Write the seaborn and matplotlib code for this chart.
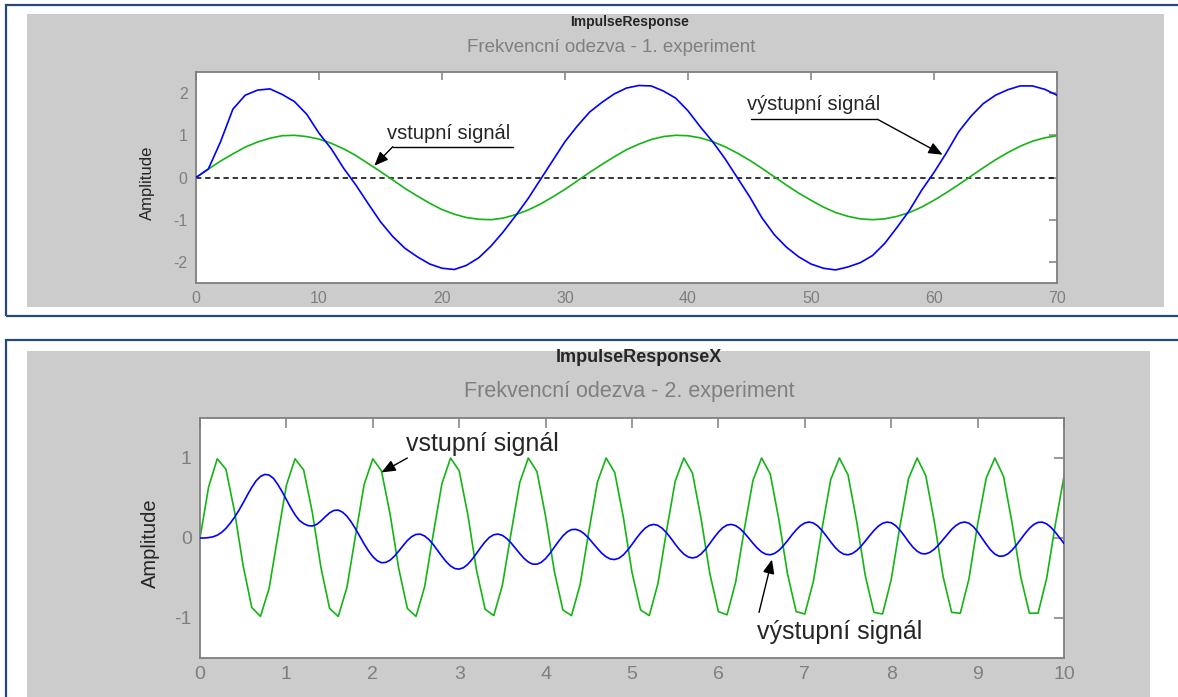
import numpy as np
import matplotlib
matplotlib.use("Agg")
import matplotlib.pyplot as plt
from matplotlib.patches import Rectangle
import seaborn as sns

# -----------------------------------
# STEP 1: Data
# -----------------------------------
# experiment 1: one sample per time unit, t = 0..70
exp1_t = np.arange(0, 71)
exp1_in = [
    0.00, 0.20, 0.39, 0.56, 0.72, 0.84, 0.93, 0.99, 1.00, 0.97,
    0.91, 0.81, 0.68, 0.52, 0.33, 0.14, -0.06, -0.26, -0.44, -0.61,
    -0.76, -0.87, -0.95, -0.99, -1.00, -0.96, -0.88, -0.77, -0.63, -0.46,
    -0.28, -0.08, 0.12, 0.31, 0.49, 0.66, 0.79, 0.90, 0.97, 1.00,
    0.99, 0.94, 0.85, 0.73, 0.58, 0.41, 0.22, 0.02, -0.18, -0.37,
    -0.54, -0.70, -0.83, -0.92, -0.98, -1.00, -0.98, -0.92, -0.83, -0.70,
    -0.54, -0.36, -0.17, 0.03, 0.23, 0.42, 0.59, 0.74, 0.86, 0.94,
    0.99,
]
exp1_out = [
    0.00, 0.20, 0.85, 1.62, 1.95, 2.07, 2.10, 1.97, 1.80, 1.50,
    1.05, 0.68, 0.22, -0.18, -0.62, -1.05, -1.40, -1.68, -1.88, -2.05,
    -2.15, -2.18, -2.08, -1.90, -1.62, -1.28, -0.90, -0.50, -0.05, 0.40,
    0.85, 1.22, 1.55, 1.78, 1.98, 2.12, 2.18, 2.17, 2.05, 1.88,
    1.58, 1.20, 0.85, 0.45, 0.00, -0.45, -0.95, -1.35, -1.65, -1.88,
    -2.05, -2.15, -2.19, -2.12, -2.02, -1.85, -1.56, -1.18, -0.78, -0.30,
    0.12, 0.58, 1.08, 1.45, 1.75, 1.95, 2.08, 2.17, 2.17, 2.09,
    1.95,
]

# experiment 2: input sampled every 0.1 s, output every 0.05 s, t = 0..10
exp2_t_in = np.round(np.arange(0, 101) * 0.1, 2)
exp2_in = [
    0.00, 0.64, 0.99, 0.86, 0.33, -0.35, -0.87, -0.98, -0.63, 0.02,
    0.66, 0.99, 0.85, 0.32, -0.37, -0.88, -0.98, -0.62, 0.03, 0.67,
    0.99, 0.84, 0.30, -0.38, -0.88, -0.98, -0.61, 0.05, 0.68, 1.00,
    0.84, 0.29, -0.40, -0.89, -0.97, -0.59, 0.06, 0.69, 1.00, 0.83,
    0.27, -0.41, -0.90, -0.97, -0.58, 0.08, 0.70, 1.00, 0.82, 0.26,
    -0.43, -0.90, -0.97, -0.57, 0.09, 0.71, 1.00, 0.81, 0.24, -0.44,
    -0.92, -0.96, -0.55, 0.11, 0.72, 1.00, 0.80, 0.23, -0.45, -0.92,
    -0.95, -0.54, 0.12, 0.73, 1.00, 0.79, 0.21, -0.47, -0.93, -0.95,
    -0.52, 0.14, 0.74, 1.00, 0.78, 0.20, -0.48, -0.93, -0.94, -0.51,
    0.17, 0.75, 1.00, 0.77, 0.18, -0.49, -0.94, -0.94, -0.50, 0.17,
    0.77,
]
exp2_t_out = np.round(np.arange(0, 201) * 0.05, 2)
exp2_out = [
    0.000, 0.000, 0.005, 0.015, 0.035, 0.070, 0.120, 0.185, 0.260, 0.345,
    0.440, 0.540, 0.635, 0.715, 0.770, 0.795, 0.786, 0.746, 0.670, 0.580,
    0.480, 0.380, 0.290, 0.220, 0.180, 0.155, 0.150, 0.170, 0.213, 0.266,
    0.314, 0.345, 0.349, 0.323, 0.273, 0.201, 0.115, 0.020, -0.075, -0.161,
    -0.233, -0.283, -0.309, -0.305, -0.277, -0.228, -0.164, -0.096, -0.032, 0.017,
    0.045, 0.048, 0.025, -0.020, -0.082, -0.155, -0.229, -0.297, -0.350, -0.382,
    -0.389, -0.371, -0.328, -0.266, -0.193, -0.117, -0.047, 0.008, 0.041, 0.049,
    0.033, -0.006, -0.061, -0.127, -0.193, -0.254, -0.300, -0.326, -0.328, -0.304,
    -0.257, -0.192, -0.118, -0.042, 0.026, 0.077, 0.105, 0.108, 0.089, 0.050,
    -0.004, -0.067, -0.131, -0.190, -0.235, -0.263, -0.269, -0.252, -0.211, -0.151,
    -0.080, -0.005, 0.064, 0.121, 0.157, 0.170, 0.157, 0.121, 0.065, -0.003,
    -0.077, -0.145, -0.201, -0.237, -0.250, -0.237, -0.199, -0.141, -0.070, 0.005,
    0.073, 0.128, 0.162, 0.170, 0.154, 0.117, 0.063, 0.000, -0.066, -0.126,
    -0.174, -0.203, -0.210, -0.193, -0.155, -0.099, -0.033, 0.037, 0.101, 0.154,
    0.188, 0.200, 0.187, 0.150, 0.093, 0.024, -0.049, -0.116, -0.169, -0.202,
    -0.210, -0.194, -0.157, -0.104, -0.039, 0.029, 0.093, 0.147, 0.184, 0.199,
    0.191, 0.156, 0.100, 0.030, -0.045, -0.113, -0.165, -0.195, -0.198, -0.178,
    -0.139, -0.084, -0.020, 0.046, 0.108, 0.157, 0.189, 0.200, 0.185, 0.143,
    0.078, 0.001, -0.078, -0.149, -0.201, -0.228, -0.225, -0.199, -0.151, -0.087,
    -0.015, 0.057, 0.121, 0.169, 0.195, 0.198, 0.176, 0.132, 0.072, 0.002,
    -0.068,
]

exp1_xticks = [0, 10, 20, 30, 40, 50, 60, 70]
exp1_yticks = [-2, -1, 0, 1, 2]
exp2_xticks = [0, 1, 2, 3, 4, 5, 6, 7, 8, 9, 10]
exp2_yticks = [-1, 0, 1]

# -----------------------------------
# STEP 2: Style
# -----------------------------------
sns.set_style("white")
plt.rcParams["font.family"] = ["Liberation Sans", "DejaVu Sans"]

BLUE = "#0000FF"
GREEN = "#14B414"
GRAY_BG = "#CCCCCC"
AX_GRAY = "#7F7F7F"
NAVY = "#244A7C"

FIG_W, FIG_H = 1178, 697


def fx(px):
    return px / FIG_W


def fy(py):
    return 1 - py / FIG_H


def rect(left, top, right, bottom):
    return [fx(left), fy(bottom), (right - left) / FIG_W, (bottom - top) / FIG_H]


fig = plt.figure(figsize=(FIG_W / 100, FIG_H / 100), dpi=100)
fig.patch.set_facecolor("white")

# panel frames and grey backgrounds
for (l, t, r, b) in [(6, 5, 1190, 316), (6, 340, 1190, 720)]:
    fig.add_artist(Rectangle((fx(l), fy(b)), (r - l) / FIG_W, (b - t) / FIG_H,
                             transform=fig.transFigure, facecolor="none",
                             edgecolor=NAVY, lw=1.6, zorder=-2))
for (l, t, r, b) in [(27, 14, 1164, 307), (27, 351, 1150, 697)]:
    fig.add_artist(Rectangle((fx(l), fy(b)), (r - l) / FIG_W, (b - t) / FIG_H,
                             transform=fig.transFigure, facecolor=GRAY_BG,
                             edgecolor="none", zorder=-1))


def style_axes(ax, xticks, yticks, xlim, ylim, size, tick_len):
    ax.set_facecolor("white")
    ax.set_xlim(*xlim)
    ax.set_ylim(*ylim)
    ax.set_xticks(xticks)
    ax.set_yticks(yticks)
    ax.set_xticklabels([str(v) for v in xticks])
    ax.set_yticklabels([str(v) for v in yticks])
    ax.tick_params(direction="in", length=tick_len, width=1.1, colors=AX_GRAY,
                   top=True, right=True, labelsize=size, pad=6)
    for s in ax.spines.values():
        s.set_color(AX_GRAY)
        s.set_linewidth(1.3)
        s.set_visible(True)
    ax.set_xlabel("")
    ax.set_ylabel("")


def arrow(ax, tail, tip):
    ax.annotate("", xy=tip, xytext=tail,
                arrowprops=dict(arrowstyle="-|>,head_length=0.6,head_width=0.25",
                                mutation_scale=14, color="k", lw=1,
                                shrinkA=0, shrinkB=0))


# -----------------------------------
# STEP 3: Experiment 1
# -----------------------------------
ax1 = fig.add_axes(rect(196, 72, 1057, 283))
ax1.axhline(0, color="k", lw=1.1, ls=(0, (3.5, 2.5)), zorder=1)
sns.lineplot(x=exp1_t, y=exp1_in, ax=ax1, color=GREEN, lw=1.2,
             estimator=None, sort=False, zorder=2)
sns.lineplot(x=exp1_t, y=exp1_out, ax=ax1, color=BLUE, lw=1.2,
             estimator=None, sort=False, zorder=3)
style_axes(ax1, exp1_xticks, exp1_yticks, (0, 70), (-2.5, 2.5), 11.5, 6)

ax1.text(15.5, 1.05, "vstupní signál", fontsize=14.5, ha="left", va="center")
ax1.plot([16.0, 25.8], [0.73, 0.73], color="k", lw=1)
arrow(ax1, (16.0, 0.73), (14.5, 0.28))

ax1.text(44.8, 1.74, "výstupní signál", fontsize=14.5, ha="left", va="center")
ax1.plot([45.1, 55.4], [1.38, 1.38], color="k", lw=1)
arrow(ax1, (55.4, 1.38), (60.7, 0.54))

fig.text(fx(630), fy(22), "ImpulseResponse", fontsize=10, fontweight="bold",
         ha="center", va="center")
fig.text(fx(611), fy(47), "Frekvencní odezva - 1. experiment", fontsize=13.5,
         color=AX_GRAY, ha="center", va="center")
fig.text(fx(147), fy(183), "Amplitude", fontsize=12, rotation=90,
         ha="center", va="center")

# -----------------------------------
# STEP 4: Experiment 2
# -----------------------------------
ax2 = fig.add_axes(rect(200, 418, 1064, 658))
sns.lineplot(x=exp2_t_in, y=exp2_in, ax=ax2, color=GREEN, lw=1.2,
             estimator=None, sort=False, zorder=2)
sns.lineplot(x=exp2_t_out, y=exp2_out, ax=ax2, color=BLUE, lw=1.2,
             estimator=None, sort=False, zorder=3)
style_axes(ax2, exp2_xticks, exp2_yticks, (0, 10), (-1.5, 1.5), 14, 7)

ax2.text(2.39, 1.18, "vstupní signál", fontsize=18, ha="left", va="center")
arrow(ax2, (2.40, 1.00), (2.10, 0.82))

ax2.text(6.45, -1.18, "výstupní signál", fontsize=18, ha="left", va="center")
arrow(ax2, (6.47, -0.93), (6.62, -0.27))

fig.text(fx(639), fy(357), "ImpulseResponseX", fontsize=13, fontweight="bold",
         ha="center", va="center")
fig.text(fx(629), fy(392), "Frekvencní odezva - 2. experiment", fontsize=15.5,
         color=AX_GRAY, ha="center", va="center")
fig.text(fx(150), fy(543), "Amplitude", fontsize=14.5, rotation=90,
         ha="center", va="center")

fig.savefig("out.png", dpi=100)
